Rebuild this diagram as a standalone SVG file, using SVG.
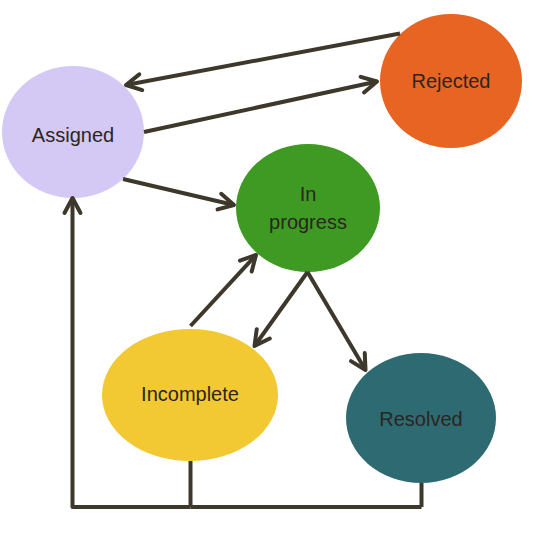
<svg xmlns="http://www.w3.org/2000/svg" width="536" height="558" viewBox="0 0 536 558">
<style>
.lbl{font-family:"Liberation Sans",Arial,sans-serif;font-size:20px;fill:#2b2620;text-anchor:middle}
.c{fill:none;stroke:#3d382b;stroke-width:4}
.a{marker-end:url(#arr)}
</style>
<defs>
<marker id="arr" markerUnits="userSpaceOnUse" viewBox="-20 -12 24 24" markerWidth="24" markerHeight="24" refX="0" refY="0" orient="auto">
<path d="M-15,-8 L0,0 L-15,8" fill="none" stroke="#3d382b" stroke-width="4" stroke-linecap="round" stroke-linejoin="round"/>
</marker>
</defs>
<rect width="536" height="558" fill="#fff"/>
<g id="nodes">
<g id="assigned"><ellipse cx="73" cy="132" rx="71" ry="66" fill="#d4c8f5"/><text class="lbl" x="73" y="142">Assigned</text></g>
<g id="rejected"><ellipse cx="451" cy="81" rx="71" ry="67" fill="#e86423"/><text class="lbl" x="451" y="88">Rejected</text></g>
<g id="inprogress"><ellipse cx="308" cy="208" rx="72" ry="64" fill="#3e9a22"/><text class="lbl" x="308" y="201">In</text><text class="lbl" x="308" y="229">progress</text></g>
<g id="incomplete"><ellipse cx="190" cy="395" rx="88" ry="66" fill="#f2c933"/><text class="lbl" x="190" y="401">Incomplete</text></g>
<g id="resolved"><ellipse cx="421" cy="418" rx="75" ry="65" fill="#2e6a72"/><text class="lbl" x="421" y="426">Resolved</text></g>
</g>
<g id="connectors">
<path class="c a" d="M400,33.5 L126,85"/>
<path class="c a" d="M144,132 L377,81.5"/>
<path class="c a" d="M123,179 L234,205"/>
<path class="c a" d="M190.5,326 L256,255"/>
<path class="c a" d="M307.5,272 L254.5,346"/>
<path class="c a" d="M307.5,272 L365.5,370"/>
<path class="c" d="M190.5,461 V507 M421.5,483 V507"/>
<path class="c" d="M190.5,507 H421.5" stroke-linejoin="round"/>
<path class="c a" d="M190.5,507 H72.5 V198" stroke-linejoin="round"/>
</g>
</svg>
